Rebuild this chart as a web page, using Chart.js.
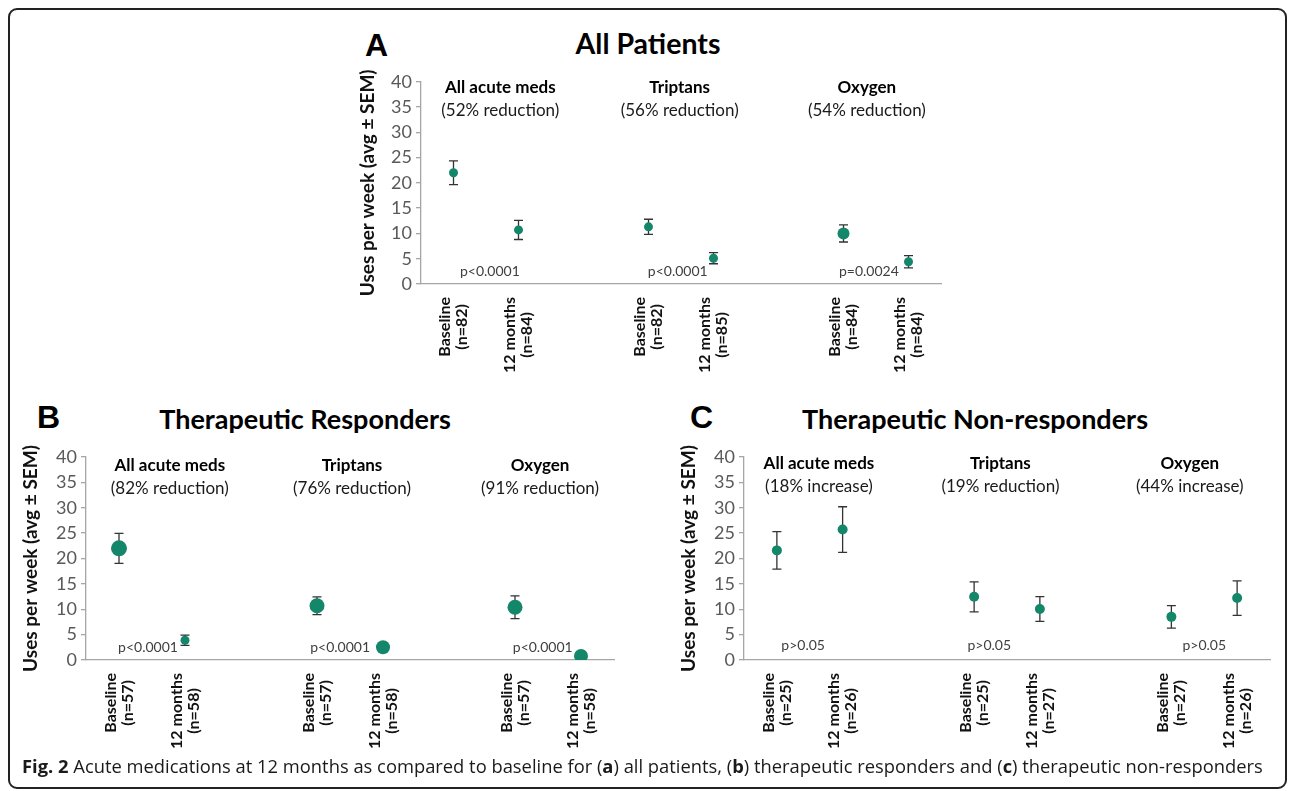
<!DOCTYPE html>
<html lang="en">
<head>
  <meta charset="UTF-8">
  <title>Fig. 2 Acute medications</title>
  <script src="https://cdn.jsdelivr.net/npm/chart.js"></script>
  <style>
    body { margin: 0; background: #fff; width: 1292px; height: 791px; overflow: hidden; position: relative; font-family: Lato, sans-serif; }
    .frame { position: absolute; left: 8px; top: 8px; width: 1279px; height: 781px; border: 2px solid #222; border-radius: 9px; box-sizing: border-box; }
    canvas { position: absolute; }
    .letter { position: absolute; font-family: 'Liberation Sans', Arial, sans-serif; font-weight: bold; font-size: 32px; line-height: 1; }
    .title { position: absolute; font-weight: bold; font-size: 27px; transform: translate(-50%, -50%); white-space: nowrap; }
    .caption { position: absolute; left: 22px; top: 753px; font-family: 'Open Sans', sans-serif; font-size: 18.35px; color: #1a1a1a; white-space: nowrap; }
  </style>
</head>
<body>
  <div class="frame"></div>

  <div class="letter" style="left:365px; top:29px;">A</div>
  <div class="title" style="left:648px; top:43px; font-size:28.5px;">All Patients</div>
  <div class="letter" style="left:37px; top:401px;">B</div>
  <div class="title" style="left:305px; top:418px;">Therapeutic Responders</div>
  <div class="letter" style="left:690px; top:401px;">C</div>
  <div class="title" style="left:975px; top:418px;">Therapeutic Non-responders</div>

  <canvas id="chartA" width="620" height="330" style="left:347px; top:60px;"></canvas>
  <canvas id="chartB" width="620" height="330" style="left:10px; top:440px;"></canvas>
  <canvas id="chartC" width="620" height="330" style="left:668px; top:440px;"></canvas>

  <div class="caption"><b>Fig. 2</b> Acute medications at 12 months as compared to baseline for (<b>a</b>) all patients, (<b>b</b>) therapeutic responders and (<b>c</b>) therapeutic non-responders</div>

  <script>
    // drug groups shown in every panel
    const groups = ['All acute meds', 'Triptans', 'Oxygen'];

    // A: all patients
    const labelsA = [['Baseline', '(n=82)'], ['12 months', '(n=84)'], '', ['Baseline', '(n=82)'], ['12 months', '(n=85)'], '', ['Baseline', '(n=84)'], ['12 months', '(n=84)']];
    const meansA = [22.0, 10.7, null, 11.3, 5.1, null, 10.0, 4.4];
    const semA = [2.35, 1.9, null, 1.5, 1.1, null, 1.7, 1.2];
    const changeA = ['(52% reduction)', '(56% reduction)', '(54% reduction)'];
    const pA = ['p<0.0001', 'p<0.0001', 'p=0.0024'];

    // B: therapeutic responders
    const labelsB = [['Baseline', '(n=57)'], ['12 months', '(n=58)'], '', ['Baseline', '(n=57)'], ['12 months', '(n=58)'], '', ['Baseline', '(n=57)'], ['12 months', '(n=58)']];
    const meansB = [22.0, 3.9, null, 10.7, 2.5, null, 10.4, 0.8];
    const semB = [2.95, 1.0, null, 1.75, 0.75, null, 2.25, 0.3];
    const changeB = ['(82% reduction)', '(76% reduction)', '(91% reduction)'];
    const pB = ['p<0.0001', 'p<0.0001', 'p<0.0001'];

    // C: therapeutic non-responders
    const labelsC = [['Baseline', '(n=25)'], ['12 months', '(n=26)'], '', ['Baseline', '(n=25)'], ['12 months', '(n=27)'], '', ['Baseline', '(n=27)'], ['12 months', '(n=26)']];
    const meansC = [21.6, 25.7, null, 12.45, 10.05, null, 8.5, 12.2];
    const semC = [3.7, 4.5, null, 2.95, 2.45, null, 2.2, 3.4];
    const changeC = ['(18% increase)', '(19% reduction)', '(44% increase)'];
    const pC = ['p>0.05', 'p>0.05', 'p>0.05'];

    const green = '#14876a';
    const axisColor = '#a6a6a6';

    // error bars drawn under the markers
    const errorBars = {
      id: 'errorBars',
      beforeDatasetsDraw(chart, args, opts) {
        const { ctx, scales: { x, y } } = chart;
        const data = chart.data.datasets[0].data;
        ctx.save();
        ctx.strokeStyle = '#333';
        ctx.lineWidth = 1.3;
        data.forEach((m, i) => {
          if (m == null) return;
          const px = x.getPixelForValue(i);
          const top = y.getPixelForValue(m + opts.sems[i]);
          const bot = y.getPixelForValue(m - opts.sems[i]);
          ctx.beginPath();
          ctx.moveTo(px, top); ctx.lineTo(px, bot);
          ctx.moveTo(px - 4.5, top); ctx.lineTo(px + 4.5, top);
          ctx.moveTo(px - 4.5, bot); ctx.lineTo(px + 4.5, bot);
          ctx.stroke();
        });
        ctx.restore();
      }
    };

    // group names, % change and p values inside the plot
    const groupText = {
      id: 'groupText',
      afterDatasetsDraw(chart, args, opts) {
        const { ctx, scales: { x, y } } = chart;
        ctx.save();
        ctx.textAlign = 'center';
        ctx.textBaseline = 'middle';
        opts.items.forEach(it => {
          ctx.font = it.font;
          ctx.fillStyle = it.color;
          ctx.fillText(it.text, x.getPixelForValue(it.x), y.getPixelForValue(it.y));
        });
        ctx.restore();
      }
    };

    // vertical two-line category labels, lines centred on each other
    const rotatedLabels = {
      id: 'rotatedLabels',
      afterDraw(chart) {
        const { ctx, scales: { x } } = chart;
        ctx.save();
        ctx.font = 'bold 16px Lato';
        ctx.fillStyle = '#111';
        ctx.textAlign = 'center';
        ctx.textBaseline = 'middle';
        chart.data.labels.forEach((lab, i) => {
          if (!lab) return;
          const lines = Array.isArray(lab) ? lab : [lab];
          const w = Math.max(...lines.map(s => ctx.measureText(s).width));
          const px = x.getPixelForValue(i);
          const cy = x.top + 13 + w / 2;
          lines.forEach((s, k) => {
            ctx.save();
            ctx.translate(px + (k - (lines.length - 1) / 2) * 17, cy);
            ctx.rotate(-Math.PI / 2);
            ctx.fillText(s, 0, 0);
            ctx.restore();
          });
        });
        ctx.restore();
      }
    };

    function makePanel(id, labels, means, sems, radii, changes, pvals, pos) {
      const items = [];
      groups.forEach((g, k) => {
        items.push({ text: g, x: pos.nameX[k], y: pos.nameY, font: 'bold 17px Lato', color: '#000' });
        items.push({ text: changes[k], x: pos.nameX[k], y: pos.changeY, font: '17px Lato', color: '#1a1a1a' });
        items.push({ text: pvals[k], x: pos.pX[k], y: pos.pY, font: '14px Lato', color: '#404040' });
      });

      return new Chart(document.getElementById(id), {
        type: 'line',
        data: {
          labels,
          datasets: [{
            data: means,
            showLine: false,
            pointRadius: radii,
            pointHoverRadius: radii,
            pointBackgroundColor: green,
            pointBorderWidth: 0
          }]
        },
        options: {
          responsive: false,
          animation: false,
          devicePixelRatio: 1,
          events: [],
          layout: { autoPadding: false, padding: { left: 0, right: pos.padRight, top: pos.padTop, bottom: 0 } },
          plugins: {
            legend: { display: false },
            tooltip: { enabled: false },
            errorBars: { sems },
            groupText: { items }
          },
          scales: {
            x: {
              type: 'category',
              offset: true,
              grid: { display: false },
              border: { color: axisColor, width: 1.3 },
              ticks: { display: false },
              afterFit(s) { s.height = pos.xHeight; }
            },
            y: {
              min: 0,
              max: 40,
              ticks: { stepSize: 5, color: '#595959', font: { family: 'Lato', size: 18 }, padding: 4 },
              grid: { drawOnChartArea: false, drawTicks: true, tickLength: 5, color: axisColor, lineWidth: 1.3 },
              border: { color: axisColor, width: 1.3 },
              title: {
                display: true,
                text: 'Uses per week (avg ± SEM)',
                color: '#111',
                font: { family: 'Lato', size: 19, weight: 'bold' },
                padding: { top: 9, bottom: 0 }
              },
              afterFit(s) { s.width = pos.yWidth; }
            }
          }
        },
        plugins: [errorBars, groupText, rotatedLabels]
      });
    }

    makePanel('chartA', labelsA, meansA, semA, [4.5, 4.5, 0, 4.5, 4.5, 0, 6, 4.5], changeA, pA, {
      yWidth: 74, padRight: 26, padTop: 21.7, xHeight: 106,
      nameX: [0.72, 3.48, 6.36], nameY: 38.9, changeY: 34.3, pX: [0.56, 3.45, 6.39], pY: 2.4
    });
    makePanel('chartB', labelsB, meansB, semB, [8, 4.5, 0, 7.5, 7, 0, 7.5, 7], changeB, pB, {
      yWidth: 76, padRight: 16, padTop: 17, xHeight: 110,
      nameX: [0.77, 3.53, 6.38], nameY: 38.4, changeY: 33.7, pX: [0.44, 3.35, 6.42], pY: 2.4
    });
    makePanel('chartC', labelsC, meansC, semC, [5, 5, 0, 5, 5, 0, 5, 5], changeC, pC, {
      yWidth: 76, padRight: 18, padTop: 17, xHeight: 110,
      nameX: [0.64, 3.4, 6.28], nameY: 38.8, changeY: 34.1, pX: [0.4, 3.23, 6.5], pY: 2.9
    });
  </script>
</body>
</html>
